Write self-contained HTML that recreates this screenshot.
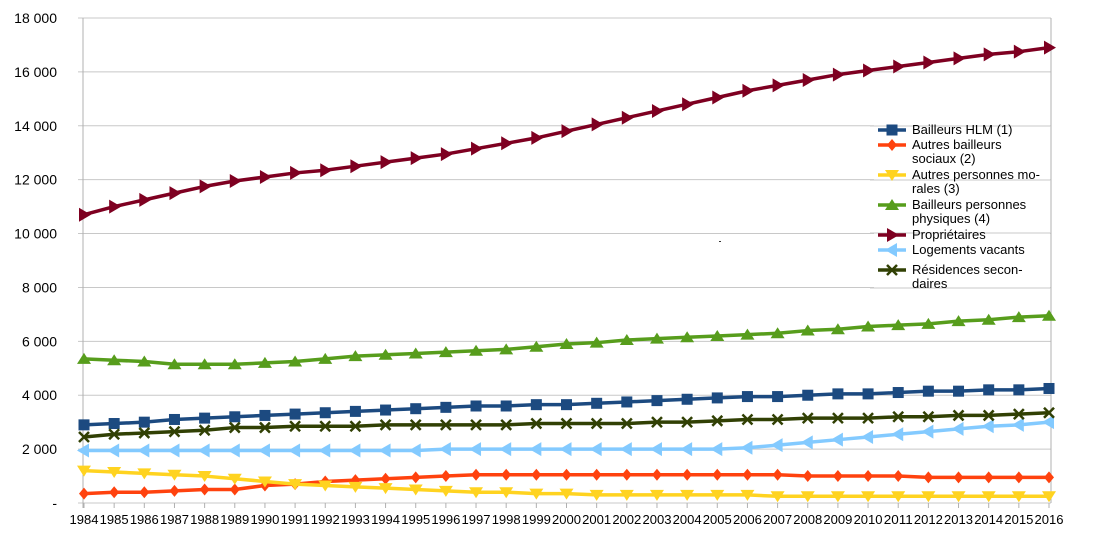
<!DOCTYPE html>
<html><head><meta charset="utf-8"><style>
body{margin:0;background:#fff;}
svg{display:block;font-family:"Liberation Sans",sans-serif;}
</style></head><body>
<svg id="chart" width="1095" height="539"></svg>
<script>
const years=[];for(let y=1984;y<=2016;y++)years.push(y);
const yTicks=[0,2000,4000,6000,8000,10000,12000,14000,16000,18000];
const hlm=[2900,2950,3000,3100,3150,3200,3250,3300,3350,3400,3450,3500,3550,3600,3600,3650,3650,3700,3750,3800,3850,3900,3950,3950,4000,4050,4050,4100,4150,4150,4200,4200,4250];
const autresSociaux=[350,400,400,450,500,500,650,700,800,850,900,950,1000,1050,1050,1050,1050,1050,1050,1050,1050,1050,1050,1050,1000,1000,1000,1000,950,950,950,950,950];
const autresMorales=[1200,1150,1100,1050,1000,900,800,700,650,600,550,500,450,400,400,350,350,300,300,300,300,300,300,250,250,250,250,250,250,250,250,250,250];
const physiques=[5350,5300,5250,5150,5150,5150,5200,5250,5350,5450,5500,5550,5600,5650,5700,5800,5900,5950,6050,6100,6150,6200,6250,6300,6400,6450,6550,6600,6650,6750,6800,6900,6950];
const proprietaires=[10700,11000,11250,11500,11750,11950,12100,12250,12350,12500,12650,12800,12950,13150,13350,13550,13800,14050,14300,14550,14800,15050,15300,15500,15700,15900,16050,16200,16350,16500,16650,16750,16900];
const vacants=[1950,1950,1950,1950,1950,1950,1950,1950,1950,1950,1950,1950,2000,2000,2000,2000,2000,2000,2000,2000,2000,2000,2050,2150,2250,2350,2450,2550,2650,2750,2850,2900,3000];
const secondaires=[2450,2550,2600,2650,2700,2800,2800,2850,2850,2850,2900,2900,2900,2900,2900,2950,2950,2950,2950,3000,3000,3050,3100,3100,3150,3150,3150,3200,3200,3250,3250,3300,3350];

const NS="http://www.w3.org/2000/svg";
const svg=document.getElementById('chart');
const X0=84,X1=1049,Y0=503,Y1=18;
const xs=i=>X0+(X1-X0)*i/(years.length-1);
const ys=v=>Y0-(Y0-Y1)*v/18000;
function mk(t,a,p){const e=document.createElementNS(NS,t);for(const k in a)e.setAttribute(k,a[k]);(p||svg).appendChild(e);return e;}

yTicks.forEach(t=>{
  const g=mk('line',{x1:78,x2:1051,y1:ys(t),y2:ys(t),stroke:'#c8c8c8','stroke-width':1});
  
  
  const tx=mk('text',{x:57,y:ys(t)+5,'text-anchor':'end','font-size':14,fill:'#000'});
  tx.textContent=t===0?'-':t.toLocaleString('fr-FR').replace(/\s/g,' ');
  
  
});
mk('line',{x1:83,x2:83,y1:18,y2:508,stroke:'#b0b0b0','stroke-width':1});
mk('line',{x1:1051,x2:1051,y1:18,y2:503,stroke:'#b0b0b0','stroke-width':1});
years.forEach((y,i)=>{
  mk('line',{x1:xs(i),x2:xs(i),y1:503,y2:508,stroke:'#b0b0b0'});
  const t=mk('text',{x:xs(i),y:524,'text-anchor':'middle','font-size':13,fill:'#000',textLength:29,lengthAdjust:'spacingAndGlyphs'});
  t.textContent=y;
  
  
});

function marker(type,x,y,c,g){
  const s=5.5;
  if(type==='sq')return mk('rect',{x:x-s,y:y-s,width:2*s,height:2*s,fill:c},g);
  if(type==='dia')return mk('polygon',{points:`${x},${y-6} ${x+5},${y} ${x},${y+6} ${x-5},${y}`,fill:c},g);
  if(type==='down')return mk('polygon',{points:`${x-7},${y-5} ${x+7},${y-5} ${x},${y+6}`,fill:c},g);
  if(type==='up')return mk('polygon',{points:`${x-7},${y+5} ${x+7},${y+5} ${x},${y-6}`,fill:c},g);
  if(type==='right')return mk('polygon',{points:`${x-5},${y-7} ${x-5},${y+7} ${x+7},${y}`,fill:c},g);
  if(type==='left')return mk('polygon',{points:`${x+5},${y-7} ${x+5},${y+7} ${x-7},${y}`,fill:c},g);
  if(type==='x')return mk('path',{d:`M${x-5} ${y-5}L${x+5} ${y+5}M${x-5} ${y+5}L${x+5} ${y-5}`,stroke:c,'stroke-width':2.5},g);
}
const series=[
 {n:'series-hlm',d:hlm,c:'#1c4a80',m:'sq'},
 {n:'series-autres-sociaux',d:autresSociaux,c:'#ff420e',m:'dia'},
 {n:'series-autres-morales',d:autresMorales,c:'#ffd320',m:'down'},
 {n:'series-personnes-physiques',d:physiques,c:'#579d1c',m:'up'},
 {n:'series-proprietaires',d:proprietaires,c:'#7e0021',m:'right'},
 {n:'series-logements-vacants',d:vacants,c:'#83caff',m:'left'},
 {n:'series-residences-secondaires',d:secondaires,c:'#314004',m:'x'}
];
series.forEach(s=>{
  const g=mk('g',{});
  
  
  mk('polyline',{points:s.d.map((v,i)=>xs(i)+','+ys(v)).join(' '),fill:'none',stroke:s.c,'stroke-width':3.5,'stroke-linejoin':'round'},g);
  s.d.forEach((v,i)=>marker(s.m,xs(i),ys(v),s.c,g));
});

const lg=mk('g',{});


mk('rect',{x:874,y:120,width:176,height:174,fill:'#fff'},lg);
[126,180,233,288].forEach(y=>mk('line',{x1:870,x2:1051,y1:y,y2:y,stroke:'#c8c8c8'},lg));
const entries=[
 {y:130,c:'#1c4a80',m:'sq',t:['Bailleurs HLM (1)']},
 {y:145,c:'#ff420e',m:'dia',t:['Autres bailleurs','sociaux (2)']},
 {y:175,c:'#ffd320',m:'down',t:['Autres personnes mo-','rales (3)']},
 {y:205,c:'#579d1c',m:'up',t:['Bailleurs personnes','physiques (4)']},
 {y:235,c:'#7e0021',m:'right',t:['Propriétaires']},
 {y:250,c:'#83caff',m:'left',t:['Logements vacants']},
 {y:270,c:'#314004',m:'x',t:['Résidences secon-','daires']}
];
entries.forEach(e=>{
  const g=mk('g',{},lg);
  
  
  mk('line',{x1:878,x2:906,y1:e.y,y2:e.y,stroke:e.c,'stroke-width':3.5},g);
  marker(e.m,892,e.y,e.c,g);
  e.t.forEach((l,k)=>{const t=mk('text',{x:912,y:e.y+4+k*14,'font-size':13,fill:'#000'},g);t.textContent=l;});
});
mk('rect',{x:719,y:241,width:2,height:1,fill:'#333'});
</script>
</body></html>
